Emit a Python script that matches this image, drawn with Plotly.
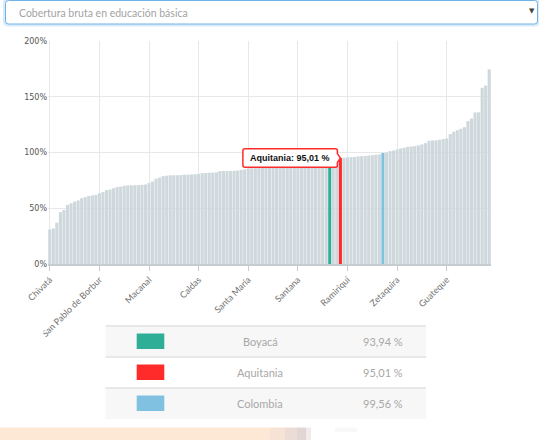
import plotly.graph_objects as go

# ---------------- data ----------------
municipios = [
    "Chivatá", "Almeida", "Arcabuco", "Belén", "Berbeo", "Betéitiva", "Boavita", "Boyacá (mpio.)",
    "Briceño", "Buenavista", "Busbanzá", "Campohermoso", "Cerinza", "Chinavita",
    "San Pablo de Borbur", "Chiquinquirá", "Chíquiza", "Chiscas", "Chita", "Chitaraque", "Chivor",
    "Ciénega", "Cómbita", "Coper", "Corrales", "Covarachía", "Cubará", "Cucaita",
    "Macanal", "Cuítiva", "Duitama", "El Cocuy", "El Espino", "Firavitoba", "Floresta", "Gachantivá",
    "Gámeza", "Garagoa", "Guacamayas", "Guayatá", "Güicán", "Iza",
    "Caldas", "Jenesano", "Jericó", "La Capilla", "La Uvita", "La Victoria", "Labranzagrande",
    "Maripí", "Miraflores", "Mongua", "Monguí", "Moniquirá", "Motavita", "Muzo",
    "Santa María", "Nobsa", "Nuevo Colón", "Oicatá", "Otanche", "Pachavita", "Páez", "Paipa",
    "Pajarito", "Panqueba", "Pauna", "Paya", "Paz de Río", "Pesca",
    "Santana", "Pisba", "Puerto Boyacá", "Quípama", "Ráquira", "Rondón", "Saboyá", "Sáchica", "Samacá",
    "Boyacá", "San Eduardo", "San José de Pare", "Aquitania", "San Luis de Gaceno",
    "Ramiriquí", "San Mateo", "San Miguel de Sema", "Santa Rosa de Viterbo", "Santa Sofía", "Sativanorte",
    "Sativasur", "Siachoque", "Soatá", "Socha",
    "Colombia", "Socotá", "Sogamoso", "Somondoco",
    "Zetaquira", "Sora", "Soracá", "Sotaquirá", "Susacón", "Sutamarchán", "Sutatenza", "Tasco", "Tenza",
    "Tibaná", "Tibasosa", "Tinjacá", "Tipacoque", "Toca",
    "Guateque", "Togüí", "Tópaga", "Tota", "Tunja", "Tununguá", "Turmequé", "Tuta", "Tutazá", "Úmbita",
    "Ventaquemada", "Villa de Leyva", "Viracachá",
]

cobertura = [
    31.0, 31.8, 37.0, 46.5, 48.5, 53.0, 54.5, 56.0, 57.0, 59.0,
    60.0, 61.0, 61.5, 62.0, 63.5, 64.5, 66.3, 66.8, 68.0, 69.0,
    69.4, 70.2, 70.5, 70.6, 70.7, 70.8, 71.0, 71.3, 72.5, 74.0,
    76.5, 77.5, 78.8, 79.2, 79.5, 79.6, 79.6, 79.7, 80.1, 80.2,
    80.3, 80.4, 80.8, 81.5, 81.7, 81.8, 81.9, 82.2, 83.3, 83.4,
    83.5, 83.5, 83.6, 83.8, 84.4, 84.8, 85.6, 85.8, 85.9, 86.0,
    86.1, 86.2, 86.4, 86.6, 86.9, 87.2, 87.6, 88.0, 88.4, 88.8,
    89.1, 89.5, 90.0, 90.6, 91.2, 91.8, 92.5, 93.1, 93.6, 93.94,
    94.3, 94.7, 95.01, 95.3, 95.6, 95.8, 96.0, 96.5, 96.7, 96.9,
    97.3, 97.5, 98.0, 98.3, 99.56, 99.9, 101.2, 101.8, 102.7, 103.6,
    104.2, 105.1, 105.4, 105.7, 106.3, 107.2, 108.4, 110.5, 110.8, 110.9,
    111.4, 112.0, 112.6, 116.5, 118.6, 120.0, 121.3, 122.7, 128.1, 130.5,
    135.9, 136.0, 158.0, 160.0, 174.6,
]
assert len(municipios) == len(cobertura) == 125

etiquetas_eje = ["Chivatá", "San Pablo de Borbur", "Macanal", "Caldas", "Santa María",
                 "Santana", "Ramiriquí", "Zetaquira", "Guateque"]

resaltados = ["Boyacá", "Aquitania", "Colombia"]
seleccionado = "Aquitania"
titulo_selector = "Cobertura bruta en educación básica"

# ---------------- style ----------------
W, H = 539, 440
L, R, T, B = 48, 48, 41, 176
PW, PH = W - L - R, H - T - B
COL_BAR = "#cfd8dc"
COLORES = {"Boyacá": "#2eae97", "Aquitania": "#ff2b2b", "Colombia": "#80c0e0"}
FONT_LIGHT = "Lato"


def fx(px):
    return (px - L) / PW


def fy(py):
    return (T + PH - py) / PH


def rrect(x0, y0, x1, y1, r):
    pts = [("M", x0 + r, y0), ("L", x1 - r, y0), ("Q", x1, y0, x1, y0 + r),
           ("L", x1, y1 - r), ("Q", x1, y1, x1 - r, y1), ("L", x0 + r, y1),
           ("Q", x0, y1, x0, y1 - r), ("L", x0, y0 + r), ("Q", x0, y0, x0 + r, y0)]
    s = ""
    for p in pts:
        cmd = p[0]
        coords = p[1:]
        parts = []
        for i in range(0, len(coords), 2):
            parts.append(f"{fx(coords[i]):.5f},{fy(coords[i + 1]):.5f}")
        s += cmd + " " + " ".join(parts) + " "
    return s + "Z"


def fmt(v):
    return f"{v:.2f}".replace(".", ",") + " %"


bar_colors = [COLORES.get(m, COL_BAR) for m in municipios]

fig = go.Figure(go.Bar(
    x=municipios, y=cobertura,
    marker=dict(color=bar_colors, line=dict(width=0)),
    hoverinfo="skip",
))

shapes = []
annotations = []

# dropdown selector on top
shapes.append(dict(type="path", xref="paper", yref="paper", path=rrect(4.5, -0.5, 538.5, 25, 4),
                   line=dict(color="rgba(102,175,233,0.25)", width=3), fillcolor="white", layer="below"))
shapes.append(dict(type="path", xref="paper", yref="paper", path=rrect(5.5, 0.5, 537.5, 24, 3),
                   line=dict(color="#6fb3e8", width=1), fillcolor="white", layer="below"))
annotations.append(dict(xref="paper", yref="paper", x=fx(17), y=fy(13), xanchor="left", yanchor="middle",
                        text=titulo_selector, showarrow=False,
                        font=dict(family=FONT_LIGHT, size=10.5, color="#a3a3a3")))
annotations.append(dict(xref="paper", yref="paper", x=fx(531.5), y=fy(11.5), xanchor="center", yanchor="middle",
                        text="▼", showarrow=False, font=dict(family="DejaVu Sans", size=7, color="#444")))

# tooltip for the selected municipality
i_sel = municipios.index(seleccionado)
v_sel = cobertura[i_sel]
tip_path = ("M -95.5,9.2 L -5,9.2 Q -3,9.2 -3,7.2 L -3,4.5 L 0,0 L -3,-4.5 L -3,-7.2 "
            "Q -3,-9.2 -5,-9.2 L -95.5,-9.2 Q -97.5,-9.2 -97.5,-7.2 L -97.5,7.2 Q -97.5,9.2 -95.5,9.2 Z")
shadow_path = ("M -94.5,8.2 L -2,8.2 L -2,-10.2 L -94.5,-10.2 Z")
shapes.append(dict(type="path", xref="x", yref="y", xsizemode="pixel", ysizemode="pixel",
                   xanchor=seleccionado, yanchor=v_sel, path=shadow_path,
                   line=dict(width=0), fillcolor="rgba(0,0,0,0.07)", layer="above"))
shapes.append(dict(type="path", xref="x", yref="y", xsizemode="pixel", ysizemode="pixel",
                   xanchor=seleccionado, yanchor=v_sel, path=tip_path,
                   line=dict(color=COLORES[seleccionado], width=1.5), fillcolor="white", layer="above"))
annotations.append(dict(x=seleccionado, y=v_sel, xref="x", yref="y", xanchor="center", yanchor="middle",
                        xshift=-50.3, yshift=0.5, showarrow=False,
                        text=f"<b>{seleccionado}: {fmt(v_sel)}</b>",
                        font=dict(family="Liberation Sans", size=9, color="#111")))

# the chart container clips the start of the long rotated label
shapes.append(dict(type="rect", xref="paper", yref="paper", x0=fx(0), x1=fx(43.5),
                   y0=fy(300), y1=fy(336), fillcolor="white", line=dict(width=0), layer="above"))

# legend table
row_top = [326, 357, 388]
row_h = 31
row_bg = ["#f7f7f7", "#ffffff", "#f7f7f7"]
for k, nombre in enumerate(resaltados):
    y0 = row_top[k]
    shapes.append(dict(type="rect", xref="paper", yref="paper", x0=fx(105.5), x1=fx(426),
                       y0=fy(y0), y1=fy(y0 + row_h), fillcolor=row_bg[k], line=dict(width=0), layer="below"))
    shapes.append(dict(type="line", xref="paper", yref="paper", x0=fx(105.5), x1=fx(426),
                       y0=fy(y0), y1=fy(y0), line=dict(color="#e8e8e8", width=2), layer="below"))
    cy = y0 + row_h / 2
    shapes.append(dict(type="rect", xref="paper", yref="paper", x0=fx(136.7), x1=fx(164.3),
                       y0=fy(cy - 8), y1=fy(cy + 7.5), fillcolor=COLORES[nombre],
                       line=dict(width=0), layer="below"))
    annotations.append(dict(xref="paper", yref="paper", x=fx(260), y=fy(cy), xanchor="center",
                            yanchor="middle", text=nombre, showarrow=False,
                            font=dict(family=FONT_LIGHT, size=11, color="#a8a8a8")))
    annotations.append(dict(xref="paper", yref="paper", x=fx(383), y=fy(cy), xanchor="center",
                            yanchor="middle", text=fmt(cobertura[municipios.index(nombre)]), showarrow=False,
                            font=dict(family=FONT_LIGHT, size=11, color="#a8a8a8")))

# bottom decorative strip (page background peeking in)
strip = [(0, 270, "#fde8d6"), (270, 285, "#f6e3d6"), (285, 297, "#ebdcd6"),
         (297, 306, "#e1d6d4"), (306, 311, "#efebeb")]
for x0, x1, c in strip:
    shapes.append(dict(type="rect", xref="paper", yref="paper", x0=fx(x0), x1=fx(x1),
                       y0=fy(427.5), y1=fy(441), fillcolor=c, line=dict(width=0), layer="below"))
shapes.append(dict(type="rect", xref="paper", yref="paper", x0=fx(335), x1=fx(357),
                   y0=fy(427.5), y1=fy(432), fillcolor="#f8f8f8", line=dict(width=0), layer="below"))

fig.update_layout(
    width=W, height=H,
    margin=dict(l=L, r=R, t=T, b=B, pad=0),
    paper_bgcolor="white", plot_bgcolor="white",
    bargap=0.12,
    showlegend=False,
    shapes=shapes,
    annotations=annotations,
    xaxis=dict(
        type="category", tickmode="array", tickvals=etiquetas_eje, ticktext=etiquetas_eje,
        tickangle=-45, tickfont=dict(family=FONT_LIGHT, size=9, color="#707070"),
        showgrid=True, gridcolor="#e8e8e8", gridwidth=1,
        showline=True, linecolor="#c5cdd1", linewidth=2,
        ticks="outside", ticklen=5, tickcolor="#c5cdd1", tickwidth=1,
        fixedrange=True,
    ),
    yaxis=dict(
        range=[0, 200], tickmode="linear", tick0=0, dtick=50, ticksuffix="%",
        tickfont=dict(family="DejaVu Sans", size=8, color="#555"),
        showgrid=True, gridcolor="#e8e8e8", gridwidth=1, zeroline=False,
        showline=False, ticks="", fixedrange=True,
    ),
)

fig.write_html("out.html", config={"displayModeBar": False},
               post_script="document.body.style.margin='0';document.body.style.overflow='hidden';")
